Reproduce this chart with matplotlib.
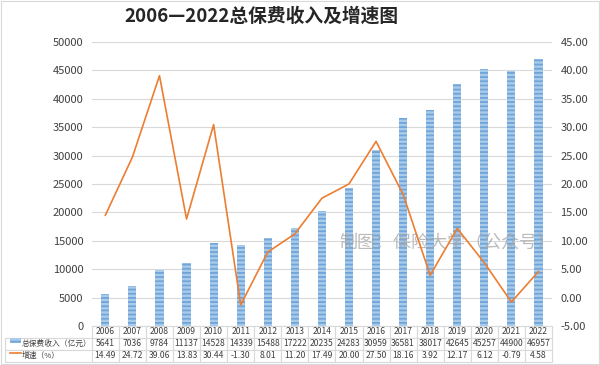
import numpy as np
import matplotlib.pyplot as plt
from matplotlib.patches import Rectangle
from matplotlib.lines import Line2D

plt.rcParams['font.family'] = ['Noto Sans CJK SC', 'DejaVu Sans']
plt.rcParams['hatch.linewidth'] = 1.3

years = ['2006', '2007', '2008', '2009', '2010', '2011', '2012', '2013', '2014',
         '2015', '2016', '2017', '2018', '2019', '2020', '2021', '2022']
premium = [5641, 7036, 9784, 11137, 14528, 14339, 15488, 17222, 20235,
           24283, 30959, 36581, 38017, 42645, 45257, 44900, 46957]
growth = [14.49, 24.72, 39.06, 13.83, 30.44, -1.30, 8.01, 11.20, 17.49,
          20.00, 27.50, 18.16, 3.92, 12.17, 6.12, -0.79, 4.58]
label_bar = '总保费收入（亿元）'
label_line = '增速（%）'

bar_c = '#A9CBEA'
stripe_c = '#6FA5D9'
line_c = '#ED7D31'

fig = plt.figure(figsize=(6, 3.65), dpi=100)
ax = fig.add_axes([0.153, 0.107, 0.767, 0.778])
x = np.arange(len(years))
ax.bar(x, premium, width=0.3, color=bar_c, edgecolor=stripe_c, linewidth=0, hatch='----', zorder=2)
ax.set_xlim(-0.5, len(years) - 0.5)
ax.set_ylim(0, 50000)
ax.set_yticks(np.arange(0, 50001, 5000))
ax.yaxis.grid(True, color='#D9D9D9', lw=0.8, zorder=0)
ax.set_xticks([])
for s in ax.spines.values():
    s.set_visible(False)
ax.tick_params(axis='y', length=0, labelsize=8, colors='#404040', pad=6)

ax2 = ax.twinx()
ax2.plot(x, growth, color=line_c, lw=1.2, zorder=3)
ax2.set_ylim(-5, 45)
ax2.set_yticks(np.arange(-5, 46, 5))
ax2.set_yticklabels(['%.2f' % v for v in np.arange(-5, 46, 5)])
for s in ax2.spines.values():
    s.set_visible(False)
ax2.tick_params(axis='y', length=0, labelsize=8, colors='#404040', pad=6)

# 水印，放在折线下面
ax2.text(0.772, 0.29, '制图：保险大学（公众号）', transform=ax2.transAxes, ha='center', va='center',
         fontsize=13, color='#A6A6A6', alpha=0.75, zorder=2)

# data table
cells = [[''] + years,
         [label_bar] + [str(v) for v in premium],
         [label_line] + ['%.2f' % v for v in growth]]
lw0 = 87 / 460.0
tb = ax.table(cellText=cells, cellLoc='center', bbox=[-lw0, -0.127, 1 + lw0, 0.127],
              colWidths=[lw0] + [1.0 / len(years)] * len(years))
tb.auto_set_font_size(False)
tb.set_fontsize(6.2)
for (r, c), cell in tb.get_celld().items():
    cell.set_edgecolor('#D9D9D9')
    cell.set_linewidth(0.8)
    cell.get_text().set_color('#404040')
    if c == 0:
        cell.get_text().set_ha('left')
        cell.get_text().set_fontsize(5.6)
        cell._loc = 'left'
        cell.PAD = 0.19
    if r == 0 and c == 0:
        cell.visible_edges = ''

# legend keys in the table
fig.add_artist(Rectangle((0.017, 0.060), 0.018, 0.013, transform=fig.transFigure,
                         facecolor=bar_c, edgecolor=stripe_c, lw=0, hatch='---'))
fig.add_artist(Line2D([0.017, 0.035], [0.033, 0.033], transform=fig.transFigure,
                      color=line_c, lw=1.2))

fig.text(0.435, 0.957, '2006—2022总保费收入及增速图', ha='center', va='center',
         fontsize=13.5, fontweight='bold', color='#262626')

fig.add_artist(Rectangle((0.002, 0.003), 0.996, 0.994, transform=fig.transFigure,
                         fill=False, edgecolor='#D9D9D9', lw=0.8))

fig.savefig('out.png', dpi=100)
